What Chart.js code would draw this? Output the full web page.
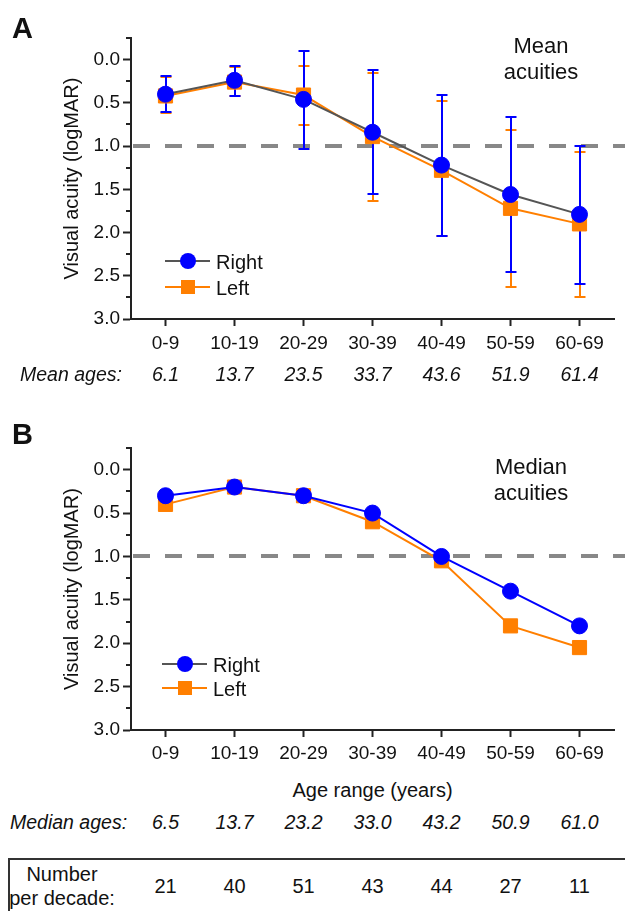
<!DOCTYPE html>
<html><head><meta charset="utf-8">
<script src="https://cdn.jsdelivr.net/npm/chart.js@4.4.1/dist/chart.umd.min.js"></script>
<style>
body{margin:0;background:#fff;}
#wrap{position:relative;width:625px;height:911px;overflow:hidden;font-family:"Liberation Sans",Arial,sans-serif;color:#111;background:#fff;}
canvas{position:absolute;left:0;}
.t{position:absolute;white-space:nowrap;line-height:1;}
.c{transform:translate(-50%,-50%);}
.l{transform:translate(0,-50%);}
</style></head><body><div id="wrap">
<canvas id="cA" width="625" height="360" style="top:0"></canvas>
<canvas id="cB" width="625" height="370" style="top:400px"></canvas>
</div>
<script>
// ---------- data ----------
const categories = ['0-9','10-19','20-29','30-39','40-49','50-59','60-69'];
const meanRight     = [0.40, 0.24, 0.46, 0.84, 1.22, 1.56, 1.79];
const meanLeft      = [0.42, 0.26, 0.41, 0.89, 1.28, 1.72, 1.90];
const meanRightLow  = [0.19, 0.07, -0.10, 0.12, 0.41, 0.66, 1.00];
const meanRightHigh = [0.61, 0.42, 1.03, 1.56, 2.04, 2.46, 2.59];
const meanLeftLow   = [0.20, 0.09, 0.07, 0.16, 0.48, 0.81, 1.07];
const meanLeftHigh  = [0.62, 0.42, 0.76, 1.63, 2.04, 2.63, 2.75];
const medianRight   = [0.30, 0.20, 0.30, 0.50, 1.00, 1.40, 1.80];
const medianLeft    = [0.40, 0.20, 0.30, 0.60, 1.05, 1.80, 2.05];
const meanAges      = ['6.1','13.7','23.5','33.7','43.6','51.9','61.4'];
const medianAges    = ['6.5','13.7','23.2','33.0','43.2','50.9','61.0'];
const numberPerDecade = [21, 40, 51, 43, 44, 27, 11];
const yTicks      = [0.0, 0.5, 1.0, 1.5, 2.0, 2.5, 3.0];
const yMinorTicks = [-0.25, 0.25, 0.75, 1.25, 1.75, 2.25, 2.75];
const refLine = 1.0;

const FONT = '"Liberation Sans", Arial, sans-serif';
const BLUE = '#0000FF', ORANGE = '#FF7F00', GRAY = '#555555', AX = '#222222';

const annot = {
  id: 'annot',
  beforeDatasetsDraw(chart, args, opts) {
    const {ctx, chartArea, scales: {x, y}} = chart;
    ctx.save();
    ctx.strokeStyle = '#888888'; ctx.lineWidth = 4; ctx.setLineDash([17, 15]);
    const yy = Math.round(y.getPixelForValue(refLine));
    ctx.beginPath(); ctx.moveTo(chartArea.left + 2, yy); ctx.lineTo(chart.width, yy); ctx.stroke();
    ctx.setLineDash([]);
    (opts.errors || []).forEach(e => {
      ctx.strokeStyle = e.color; ctx.lineWidth = e.width;
      e.low.forEach((lo, i) => {
        const px = Math.round(x.getPixelForValue(i));
        const y1 = Math.round(y.getPixelForValue(lo)), y2 = Math.round(y.getPixelForValue(e.high[i]));
        ctx.beginPath();
        ctx.moveTo(px, y1); ctx.lineTo(px, y2);
        ctx.moveTo(px - 5.5, y1); ctx.lineTo(px + 5.5, y1);
        ctx.moveTo(px - 5.5, y2); ctx.lineTo(px + 5.5, y2);
        ctx.stroke();
      });
    });
    ctx.restore();
  },
  afterDraw(chart) {
    const {ctx, chartArea, scales: {y}} = chart;
    ctx.save(); ctx.strokeStyle = AX; ctx.lineWidth = 2;
    yMinorTicks.forEach(v => {
      const yy = Math.round(y.getPixelForValue(v));
      ctx.beginPath(); ctx.moveTo(chartArea.left, yy); ctx.lineTo(chartArea.left - 5, yy); ctx.stroke();
    });
    ctx.restore();
  }
};

function makeChart(id, right, left, rightLine, padTop, xHeight, xPad, errors) {
  return new Chart(document.getElementById(id), {
    type: 'line',
    data: {
      labels: categories,
      datasets: [
        {label: 'Right', data: right, borderColor: rightLine, borderWidth: 2, tension: 0,
         pointStyle: 'circle', pointRadius: 8, pointBackgroundColor: BLUE, pointBorderColor: BLUE, pointBorderWidth: 1},
        {label: 'Left', data: left, borderColor: ORANGE, borderWidth: 2, tension: 0,
         pointStyle: 'rect', pointRadius: 10, pointBackgroundColor: ORANGE, pointBorderColor: ORANGE, pointBorderWidth: 1}
      ]
    },
    options: {
      responsive: false, animation: false, devicePixelRatio: 1,
      layout: {padding: {left: 0, right: 3, top: padTop, bottom: 0}},
      plugins: {legend: {display: false}, tooltip: {enabled: false}, annot: {errors: errors}},
      scales: {
        x: {
          type: 'category', offset: true,
          grid: {drawOnChartArea: false, drawTicks: true, tickLength: 7, tickWidth: 2, tickColor: AX, offset: false},
          border: {display: true, color: AX, width: 2},
          ticks: {font: {size: 19, family: FONT}, color: '#111', padding: xPad, maxRotation: 0, autoSkip: false},
          afterFit: s => { s.height = xHeight; }
        },
        y: {
          type: 'linear', reverse: true, min: -0.25, max: 3.0,
          afterBuildTicks: s => { s.ticks = yTicks.map(v => ({value: v})); },
          grid: {drawOnChartArea: false, tickLength: 8, tickWidth: 2, tickColor: AX},
          border: {color: AX, width: 2},
          ticks: {font: {size: 19, family: FONT}, color: '#111', padding: 3, callback: v => Number(v).toFixed(1)},
          title: {display: true, text: 'Visual acuity (logMAR)', font: {size: 20, family: FONT}, color: '#111', padding: {top: 60, bottom: 0}},
          afterFit: s => { s.width = 131; }
        }
      }
    },
    plugins: [annot]
  });
}

const chartA = makeChart('cA', meanRight, meanLeft, GRAY, 38, 41, 6, [
  {low: meanLeftLow, high: meanLeftHigh, color: ORANGE, width: 2},
  {low: meanRightLow, high: meanRightHigh, color: BLUE, width: 2}
]);
const chartB = makeChart('cB', medianRight, medianLeft, BLUE, 48, 40, 5, []);

// ---------- text annotations ----------
const wrap = document.getElementById('wrap');
function txt(s, x, y, cls, style) {
  const d = document.createElement('div');
  d.className = 't ' + cls; d.textContent = s;
  d.style.left = x + 'px'; d.style.top = y + 'px';
  Object.assign(d.style, style || {});
  wrap.appendChild(d); return d;
}
txt('A', 12, 28, 'l', {fontSize: '29px', fontWeight: 'bold'});
txt('B', 12, 434, 'l', {fontSize: '29px', fontWeight: 'bold'});
txt('Mean', 541, 46, 'c', {fontSize: '22px'});
txt('acuities', 541, 72, 'c', {fontSize: '22px'});
txt('Median', 531, 467, 'c', {fontSize: '22px'});
txt('acuities', 531, 493, 'c', {fontSize: '22px'});

function legend(x0, yR, yL) {
  const line = (y, col) => { const d = document.createElement('div'); d.style.cssText = `position:absolute;left:${x0}px;top:${y-1}px;width:45px;height:2px;background:${col}`; wrap.appendChild(d); };
  line(yR, GRAY); line(yL, ORANGE);
  const c = document.createElement('div'); c.style.cssText = `position:absolute;left:${x0+22.5-8}px;top:${yR-8}px;width:16px;height:16px;border-radius:50%;background:${BLUE}`; wrap.appendChild(c);
  const q = document.createElement('div'); q.style.cssText = `position:absolute;left:${x0+22.5-7}px;top:${yL-7}px;width:14px;height:14px;background:${ORANGE}`; wrap.appendChild(q);
  txt('Right', x0 + 51, yR + 1, 'l', {fontSize: '20px'});
  txt('Left', x0 + 51, yL + 1, 'l', {fontSize: '20px'});
}
legend(165, 261, 287);
legend(162, 664, 688);

const xA = chartA.scales.x, xB = chartB.scales.x;
txt('Mean ages:', 20, 375, 'l', {fontSize: '19.5px', fontStyle: 'italic'});
meanAges.forEach((s, i) => txt(s, xA.getPixelForValue(i), 375, 'c', {fontSize: '19.5px', fontStyle: 'italic'}));
txt('Age range (years)', (chartB.chartArea.left + chartB.chartArea.right) / 2, 790, 'c', {fontSize: '20px'});
txt('Median ages:', 10, 823, 'l', {fontSize: '19.5px', fontStyle: 'italic'});
medianAges.forEach((s, i) => txt(s, xB.getPixelForValue(i), 823, 'c', {fontSize: '19.5px', fontStyle: 'italic'}));

const box = document.createElement('div');
box.style.cssText = 'position:absolute;left:8px;top:858px;width:640px;height:100px;border:2px solid #333;box-sizing:border-box;';
wrap.appendChild(box);
txt('Number', 62, 874, 'c', {fontSize: '20px'});
txt('per decade:', 62, 898, 'c', {fontSize: '20px'});
numberPerDecade.forEach((n, i) => txt(String(n), xB.getPixelForValue(i), 886, 'c', {fontSize: '20px'}));
</script>
</body></html>
